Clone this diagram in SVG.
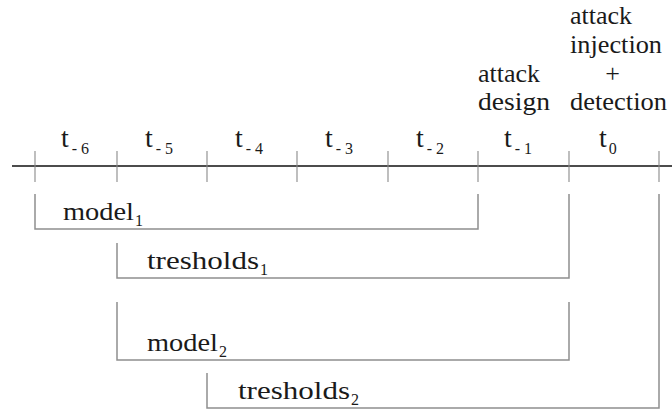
<svg xmlns="http://www.w3.org/2000/svg" width="672" height="412" viewBox="0 0 672 412">
  <style>
    text { font-family: "Liberation Serif", "Times New Roman", serif; font-size: 26px; fill: #1a1a1a; }
    .tl { font-size: 28px; }
    .sub { font-size: 16px; }
    .axis { stroke: #111; stroke-width: 1.6; fill: none; }
    .tick { stroke: #8a8a8a; stroke-width: 1.1; fill: none; }
    .span { stroke: #8f8f8f; stroke-width: 1.5; fill: none; }
  </style>

  <rect width="672" height="412" fill="#fff"/>

  <!-- time axis with period ticks -->
  <g id="axis">
    <line class="axis" x1="12" y1="166" x2="672" y2="166"/>
    <path class="tick" d="M35 151V182 M117 151V182 M207 151V182 M297 151V182 M388 151V182 M478 151V182 M569 151V182 M659 151V182"/>
  </g>

  <!-- period labels -->
  <g id="periods">
    <text class="tl" x="61" y="147">t<tspan class="sub" dx="3" dy="7">- 6</tspan></text>
    <text class="tl" x="145" y="147">t<tspan class="sub" dx="3" dy="7">- 5</tspan></text>
    <text class="tl" x="235" y="147">t<tspan class="sub" dx="3" dy="7">- 4</tspan></text>
    <text class="tl" x="325" y="147">t<tspan class="sub" dx="3" dy="7">- 3</tspan></text>
    <text class="tl" x="416" y="147">t<tspan class="sub" dx="3" dy="7">- 2</tspan></text>
    <text class="tl" x="504" y="147">t<tspan class="sub" dx="3" dy="7">- 1</tspan></text>
    <text class="tl" x="599" y="147">t<tspan class="sub" dx="2" dy="7">0</tspan></text>
  </g>

  <!-- phase captions above the last two periods -->
  <g id="attack-design">
    <text x="478" y="82" textLength="62" lengthAdjust="spacingAndGlyphs">attack</text>
    <text x="478" y="110" textLength="72" lengthAdjust="spacingAndGlyphs">design</text>
  </g>
  <g id="attack-injection">
    <text x="570" y="24" textLength="62" lengthAdjust="spacingAndGlyphs">attack</text>
    <text x="570" y="53" textLength="92" lengthAdjust="spacingAndGlyphs">injection</text>
    <text x="612.5" y="82" text-anchor="middle">+</text>
    <text x="570" y="110" textLength="97" lengthAdjust="spacingAndGlyphs">detection</text>
  </g>

  <!-- data windows -->
  <g id="connectors">
    <path class="span" d="M35 194V229H478V194"/>
    <path class="span" d="M117 243V278H569V194"/>
    <path class="span" d="M117 302V360H569V302"/>
    <path class="span" d="M207 373V408H659V194"/>
  </g>

  <g id="model1">
    <text x="63" y="220"><tspan textLength="71" lengthAdjust="spacingAndGlyphs">model</tspan><tspan class="sub" dx="1" dy="6">1</tspan></text>
  </g>
  <g id="tresholds1">
    <text x="147" y="269"><tspan textLength="112" lengthAdjust="spacingAndGlyphs">tresholds</tspan><tspan class="sub" dx="1" dy="6">1</tspan></text>
  </g>
  <g id="model2">
    <text x="147" y="351"><tspan textLength="71" lengthAdjust="spacingAndGlyphs">model</tspan><tspan class="sub" dx="1" dy="6">2</tspan></text>
  </g>
  <g id="tresholds2">
    <text x="238" y="399"><tspan textLength="112" lengthAdjust="spacingAndGlyphs">tresholds</tspan><tspan class="sub" dx="1" dy="6">2</tspan></text>
  </g>
</svg>
